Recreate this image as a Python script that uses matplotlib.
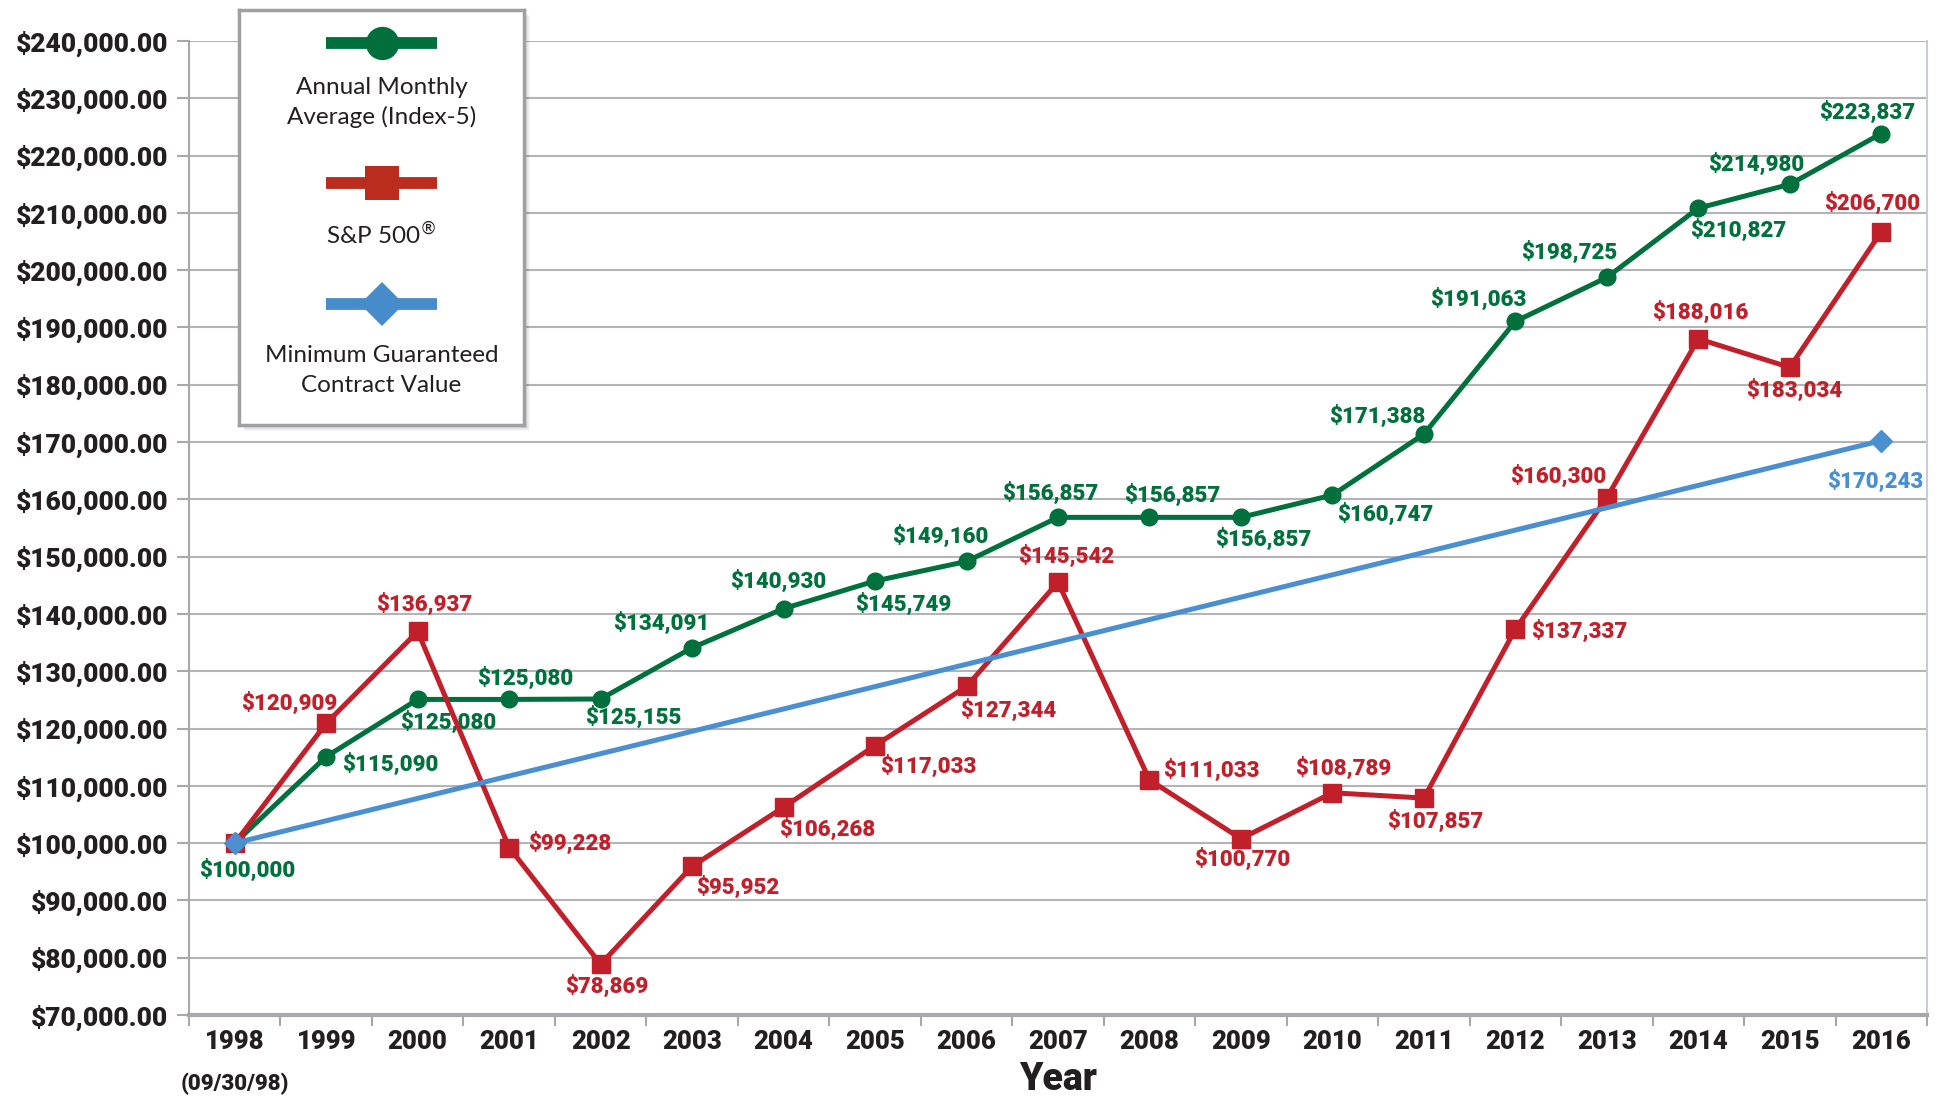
import matplotlib
matplotlib.use('Agg')
import matplotlib.pyplot as plt
from matplotlib.lines import Line2D
from matplotlib.patches import Rectangle
from matplotlib.ticker import FixedLocator, FuncFormatter
import numpy as np

# ---------------- data ----------------
years = ['1998', '1999', '2000', '2001', '2002', '2003', '2004', '2005', '2006', '2007',
         '2008', '2009', '2010', '2011', '2012', '2013', '2014', '2015', '2016']
index5 = [100000, 115090, 125080, 125080, 125155, 134091, 140930, 145749, 149160, 156857,
          156857, 156857, 160747, 171388, 191063, 198725, 210827, 214980, 223837]
sp500 = [100000, 120909, 136937, 99228, 78869, 95952, 106268, 117033, 127344, 145542,
         111033, 100770, 108789, 107857, 137337, 160300, 188016, 183034, 206700]
guar_years = ['1998', '2016']
guar_values = [100000, 170243]
first_year_note = '(09/30/98)'
y_ticks = list(range(70000, 240001, 10000))
legend_labels = ['Annual Monthly\nAverage (Index-5)', 'S&P 500$^{\\circledR}$', 'Minimum Guaranteed\nContract Value']

# ---------------- style ----------------
GREEN = '#00703c'
RED = '#c1202b'
BLUE = '#4a8fd0'
L_GREEN = '#006f3b'
L_RED = '#b92c1e'
L_BLUE = '#468ccb'
BOLD_FONT = ['Roboto', 'DejaVu Sans']
BOLD_W = 'black'
LEG_FONT = ['Lato', 'DejaVu Sans']
S = 1.238  # label offsets measured on the shrunk view

# label offsets (in shrunk-view pixels: dx right, dy down); None = no label
green_off = [(10, 22), (52, 6), (25, 19), (13, -17), (26, 15), (-25, -20), (-4, -22),
             (23, 19), (-21, -20), (-6, -19), (18, -18), (18, 18), (43, 16), (-38, -14),
             (-30, -18), (-30, -20), (32, 18), (-27, -16), (-11, -17)]
red_off = [None, (-30, -16), (5, -22), (49, -3), (5, 18), (37, 17), (35, 18), (43, 17),
           (34, 19), (7, -21), (50, -8), (1, 17), (9, -20), (9, 19), (52, 2), (-39, -17),
           (2, -21), (4, 19), (-7, -23)]
blue_off = [None, (-5, 33)]

W, H = 1941, 1098
fig = plt.figure(figsize=(W / 100, H / 100), dpi=100)
fig.patch.set_facecolor('white')
ax = fig.add_axes([189 / W, 1 - 1015 / H, (1927 - 189) / W, (1015 - 41) / H])

x = np.arange(len(years))
gx = [years.index(y) for y in guar_years]

ax.plot(x, index5, color=GREEN, lw=3.6, marker='o', ms=12, zorder=4, solid_joinstyle='round')
ax.plot(x, sp500, color=RED, lw=3.6, marker='s', ms=12.5, zorder=5, solid_joinstyle='miter')
ax.plot(gx, guar_values, color=BLUE, lw=3.6, marker='D', ms=11, zorder=6)


def fmt_money(v):
    return '${:,}'.format(v)


lab_kw = dict(textcoords='offset pixels', ha='center', va='center', fontsize=16,
              fontweight=BOLD_W, family=BOLD_FONT)
for i, (v, off) in enumerate(zip(index5, green_off)):
    if off is None:
        continue
    ax.annotate(fmt_money(v), (x[i], v), xytext=(off[0] * S, -off[1] * S), color=GREEN,
                zorder=3, **lab_kw)
for i, (v, off) in enumerate(zip(sp500, red_off)):
    if off is None:
        continue
    ax.annotate(fmt_money(v), (x[i], v), xytext=(off[0] * S, -off[1] * S), color=RED,
                zorder=3, **lab_kw)
for i, (v, off) in enumerate(zip(guar_values, blue_off)):
    if off is None:
        continue
    ax.annotate(fmt_money(v), (gx[i], v), xytext=(off[0] * S, -off[1] * S), color=BLUE,
                zorder=3, **lab_kw)

ax.set_xlim(-0.5, len(years) - 0.5)
ax.set_ylim(y_ticks[0], y_ticks[-1])
ax.yaxis.set_major_locator(FixedLocator(y_ticks))
ax.yaxis.set_major_formatter(FuncFormatter(lambda v, p: '${:,.2f}'.format(v)))
ax.grid(axis='y', color='#b4b4b8', lw=1.5, zorder=0)
ax.set_axisbelow(True)

ax.set_xticks(x)
ax.set_xticklabels(years)
ax.set_xticks(np.arange(-0.5, len(years)), minor=True)
ax.tick_params(axis='x', which='major', length=0, pad=11, labelsize=18.5, labelcolor='#231f20')
ax.tick_params(axis='x', which='minor', length=8, width=1.5, color='#a8a8ac', direction='out')
ax.tick_params(axis='y', length=9, width=1.5, color='#a8a8ac', pad=6, labelsize=19,
               labelcolor='#231f20')
for lab in ax.get_xticklabels() + ax.get_yticklabels():
    lab.set_family(BOLD_FONT)
    lab.set_fontweight(BOLD_W)

ax.spines['top'].set_visible(False)
ax.spines['left'].set_color('#a8a8ac')
ax.spines['left'].set_linewidth(1.5)
ax.spines['right'].set_color('#c8ccd4')
ax.spines['right'].set_linewidth(1.5)
ax.spines['bottom'].set_color('#a8a8ac')
ax.spines['bottom'].set_linewidth(3)

ax.text(0, -0.071, first_year_note, transform=ax.get_xaxis_transform(), ha='center',
        va='center', fontsize=16, fontweight=BOLD_W, family=BOLD_FONT, color='#231f20')
ax.set_xlabel('Year', fontsize=27, fontweight=BOLD_W, family=BOLD_FONT, color='#231f20',
              labelpad=5)

# ---------------- legend box ----------------
bx0, by0, bx1, by1 = 239, 10, 524, 425
for k in range(1, 7):
    fig.patches.append(Rectangle(((bx0 + k) / W, 1 - (by1 + k) / H), (bx1 - bx0) / W,
                                 (by1 - by0) / H, transform=fig.transFigure,
                                 facecolor='#000000', alpha=0.035, edgecolor='none', zorder=9))
lax = fig.add_axes([bx0 / W, 1 - by1 / H, (bx1 - bx0) / W, (by1 - by0) / H], zorder=10)
lax.set_xlim(bx0, bx1)
lax.set_ylim(by1, by0)
lax.set_xticks([])
lax.set_yticks([])
lax.set_facecolor('white')
for sp in lax.spines.values():
    sp.set_color('#a0a0a4')
    sp.set_linewidth(2.5)

cx = (bx0 + bx1) / 2
lx0, lx1 = 326, 437
items = [
    (L_GREEN, 'o', 24, 43, [88, 117], legend_labels[0]),
    (L_RED, 's', 25, 183, [235], legend_labels[1]),
    (L_BLUE, 'D', 22, 304, [355, 385], legend_labels[2]),
]
for col, mk, ms, ly, tys, txt in items:
    lax.add_line(Line2D([lx0, lx1], [ly, ly], color=col, lw=8.5, solid_capstyle='butt'))
    lax.add_line(Line2D([cx], [ly], color=col, marker=mk, ms=ms, markeredgewidth=0))
    lines = txt.split('\n')
    for t, ty in zip(lines, tys):
        lax.text(cx, ty, t, ha='center', va='center', fontsize=17.5, family=LEG_FONT,
                 color='#231f20')

fig.savefig('out.png', dpi=100, facecolor='white')
